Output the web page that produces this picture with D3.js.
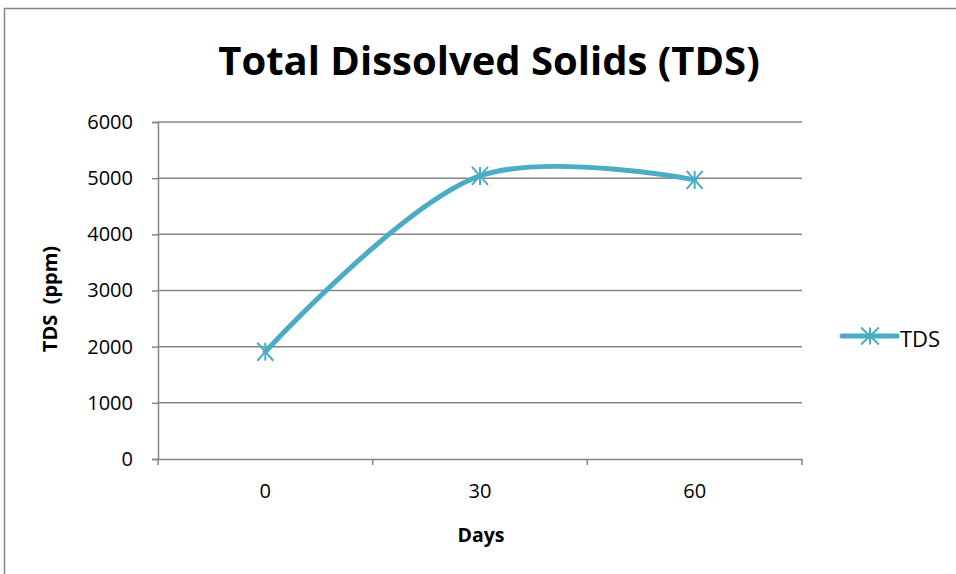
<!DOCTYPE html>
<html>
<head>
<meta charset="utf-8">
<script src="https://cdn.jsdelivr.net/npm/d3@7/dist/d3.min.js"></script>
<style>
  body { margin: 0; background: #fff; }
  svg { display: block; }
  text { font-family: "Open Sans", "Liberation Sans", sans-serif; fill: #000; }
</style>
</head>
<body>
<svg width="956" height="574"></svg>
<script>
(function() {

// data
var days = ["0", "30", "60"];
var tds = [1910, 5040, 4970];
var yTicks = [0, 1000, 2000, 3000, 4000, 5000, 6000];
var seriesName = "TDS";

var svg = d3.select("svg"),
    color = "#4bacc6",
    grey = "#868686";

var plot = {left: 158, right: 802, top: 122, bottom: 459};

// outer chart border (runs off the right and bottom edges)
svg.append("rect")
    .attr("x", 4.5).attr("y", 8.5)
    .attr("width", 1000).attr("height", 1000)
    .attr("fill", "#fff")
    .attr("stroke", grey)
    .attr("stroke-width", 1.5);

var x = d3.scaleBand().domain(days).range([plot.left, plot.right]);
var y = d3.scaleLinear().domain([0, 6000]).range([plot.bottom, plot.top]);

// gridlines
svg.append("g")
    .selectAll("line")
    .data(yTicks.slice(1))
    .enter()
    .append("line")
    .attr("x1", plot.left).attr("x2", plot.right)
    .attr("y1", function(d) { return y(d); })
    .attr("y2", function(d) { return y(d); })
    .attr("stroke", grey)
    .attr("stroke-width", 1.5);

// y axis
var yAxis = svg.append("g")
    .attr("transform", "translate(" + plot.left + ",0)")
    .call(d3.axisLeft(y).tickValues(yTicks).tickFormat(d3.format("d")).tickSize(6).tickPadding(19));
// x axis, ticks at the band edges
var xAxis = svg.append("g")
    .attr("transform", "translate(0," + plot.bottom + ")")
    .call(d3.axisBottom(x).tickSize(0).tickPadding(25));
var edges = days.map(function(d) { return x(d); }).concat([plot.right]);
xAxis.selectAll(".edge")
    .data(edges)
    .enter()
    .append("line")
    .attr("class", "edge")
    .attr("x1", function(d) { return d; }).attr("x2", function(d) { return d; })
    .attr("y1", 0).attr("y2", 6);

[yAxis, xAxis].forEach(function(a) {
    a.selectAll("path, line").attr("stroke", grey).attr("stroke-width", 1.5);
    a.selectAll("text").style("font-size", "20px").attr("fill", "#000");
    a.attr("font-family", null);
});

// smoothed series line
var cx = function(d, i) { return x(days[i]) + x.bandwidth() / 2; };
var line = d3.line()
    .x(function(d, i) { return cx(d, i); })
    .y(function(d) { return y(d); })
    .curve(d3.curveCatmullRom.alpha(0.5));

svg.append("path")
    .datum(tds)
    .attr("d", line)
    .attr("fill", "none")
    .attr("stroke", color)
    .attr("stroke-width", 5)
    .attr("stroke-linecap", "round");

function star(g, w, h) {
    var segs = [[0, -h, 0, h], [-w, -h, w, h], [-w, h, w, -h]];
    segs.forEach(function(s) {
        g.append("line")
            .attr("x1", s[0]).attr("y1", s[1]).attr("x2", s[2]).attr("y2", s[3])
            .attr("stroke", color).attr("stroke-width", 2);
    });
}

svg.append("g")
    .selectAll("g")
    .data(tds)
    .enter()
    .append("g")
    .attr("transform", function(d, i) { return "translate(" + cx(d, i) + "," + y(d) + ")"; })
    .each(function() { star(d3.select(this), 8, 9); });

// titles
svg.append("text")
    .attr("x", 489).attr("y", 75)
    .attr("text-anchor", "middle")
    .style("font-size", "40px").style("font-weight", "bold")
    .text("Total Dissolved Solids (TDS)");

svg.append("text")
    .attr("x", 481).attr("y", 542)
    .attr("text-anchor", "middle")
    .style("font-size", "19.5px").style("font-weight", "bold")
    .text("Days");

svg.append("text")
    .attr("transform", "translate(57,299) rotate(-90)")
    .attr("text-anchor", "middle")
    .style("font-size", "20px").style("font-weight", "bold")
    .style("white-space", "pre")
    .text("TDS  (ppm)");

// legend
var legend = svg.append("g").attr("transform", "translate(842,336)");
legend.append("line")
    .attr("x1", 0).attr("x2", 55)
    .attr("stroke", color).attr("stroke-width", 5).attr("stroke-linecap", "round");
star(legend.append("g").attr("transform", "translate(28,0)"), 9, 8.5);
legend.append("text")
    .attr("x", 58).attr("y", 11)
    .style("font-size", "22px")
    .text(seriesName);

})();
</script>
</body>
</html>
